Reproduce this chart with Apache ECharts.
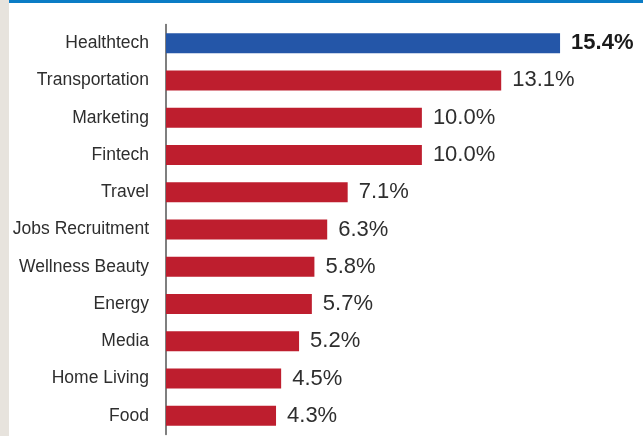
<!DOCTYPE html>
<html>
<head>
<meta charset="utf-8">
<script src="https://cdn.jsdelivr.net/npm/echarts@6/dist/echarts.min.js"></script>
<style>
html,body{margin:0;padding:0;background:#fff;}
#chart{width:643px;height:436px;}
</style>
</head>
<body>
<div id="chart"></div>
<script>
const categories = ["Healthtech","Transportation","Marketing","Fintech","Travel","Jobs Recruitment","Wellness Beauty","Energy","Media","Home Living","Food"];
const values = [15.4,13.1,10.0,10.0,7.1,6.3,5.8,5.7,5.2,4.5,4.3];
const highlighted = ["Healthtech"];

const RED = "#be1e2e";
const BLUE = "#2456a8";

const seriesData = categories.map((c, i) => {
  const hi = highlighted.includes(c);
  return {
    value: values[i],
    itemStyle: { color: hi ? BLUE : RED },
    label: hi ? { fontWeight: "bold", color: "#1a1a1a" } : {}
  };
});

const chart = echarts.init(document.getElementById("chart"), null, { renderer: "canvas" });
chart.setOption({
  animation: false,
  backgroundColor: "#ffffff",
  graphic: [
    { type: "rect", left: 0, top: 0, shape: { width: 9, height: 436 }, style: { fill: "#e7e3dd" }, z: 10 },
    { type: "rect", left: 9, top: 0, shape: { width: 634, height: 3 }, style: { fill: "#0b7cc5" }, z: 10 }
  ],
  grid: { left: 166, right: 42, top: 24.5, bottom: 1.5, containLabel: false, outerBoundsMode: "none" },
  xAxis: {
    type: "value", min: 0, max: 17,
    show: false
  },
  yAxis: {
    type: "category",
    data: categories,
    inverse: true,
    axisLine: { show: true, lineStyle: { color: "#555555", width: 1.5 } },
    axisTick: { show: false },
    splitLine: { show: false },
    axisLabel: {
      margin: 17,
      color: "#2e2e2e",
      fontSize: 17.5,
      fontFamily: "'Liberation Sans Narrow', 'Liberation Sans', Arial, sans-serif"
    }
  },
  series: [{
    type: "bar",
    data: seriesData,
    barWidth: 20,
    label: {
      show: true,
      position: "right",
      distance: 11,
      color: "#2e2e2e",
      fontSize: 22,
      fontFamily: "'Liberation Sans', Arial, sans-serif",
      formatter: p => p.value.toFixed(1) + "%"
    }
  }]
});
</script>
</body>
</html>
